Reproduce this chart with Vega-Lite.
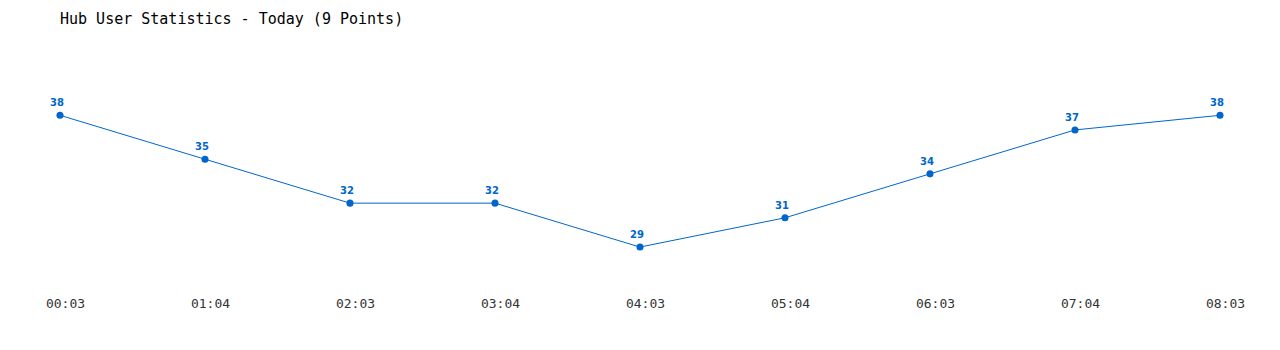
{
  "$schema": "https://vega.github.io/schema/vega-lite/v6.json",
  "autosize": {"type": "none"},
  "padding": {"left": 60, "top": 86, "right": 60, "bottom": 59},
  "width": 1160,
  "height": 205,
  "background": "white",
  "config": {"view": {"stroke": null}},
  "title": {
    "text": "Hub User Statistics - Today (9 Points)",
    "anchor": "start",
    "frame": "group",
    "offset": 59,
    "font": "DejaVu Sans Mono",
    "fontSize": 15,
    "fontWeight": "normal",
    "color": "#000000"
  },
  "data": {
    "values": [
      {"time": "00:03", "users": 38},
      {"time": "01:04", "users": 35},
      {"time": "02:03", "users": 32},
      {"time": "03:04", "users": 32},
      {"time": "04:03", "users": 29},
      {"time": "05:04", "users": 31},
      {"time": "06:03", "users": 34},
      {"time": "07:04", "users": 37},
      {"time": "08:03", "users": 38}
    ]
  },
  "encoding": {
    "x": {
      "field": "time",
      "type": "ordinal",
      "sort": null,
      "scale": {"type": "point", "padding": 0},
      "axis": {
        "title": null,
        "labelAngle": 0,
        "domain": false,
        "ticks": false,
        "grid": false,
        "labelPadding": 6,
        "labelOffset": 5,
        "labelFont": "DejaVu Sans Mono",
        "labelFontSize": 13,
        "labelColor": "#333333"
      }
    },
    "y": {
      "field": "users",
      "type": "quantitative",
      "scale": {"domain": [26, 40], "nice": false, "zero": false},
      "axis": null
    }
  },
  "layer": [
    {"mark": {"type": "line", "color": "#0066cc", "strokeWidth": 1}},
    {"mark": {"type": "point", "filled": true, "opacity": 1, "color": "#0066cc", "size": 50}},
    {
      "mark": {"type": "text", "dy": -12, "dx": -3, "font": "DejaVu Sans", "fontWeight": "bold", "fontSize": 10, "color": "#0066cc"},
      "encoding": {"text": {"field": "users", "type": "quantitative"}}
    }
  ]
}
